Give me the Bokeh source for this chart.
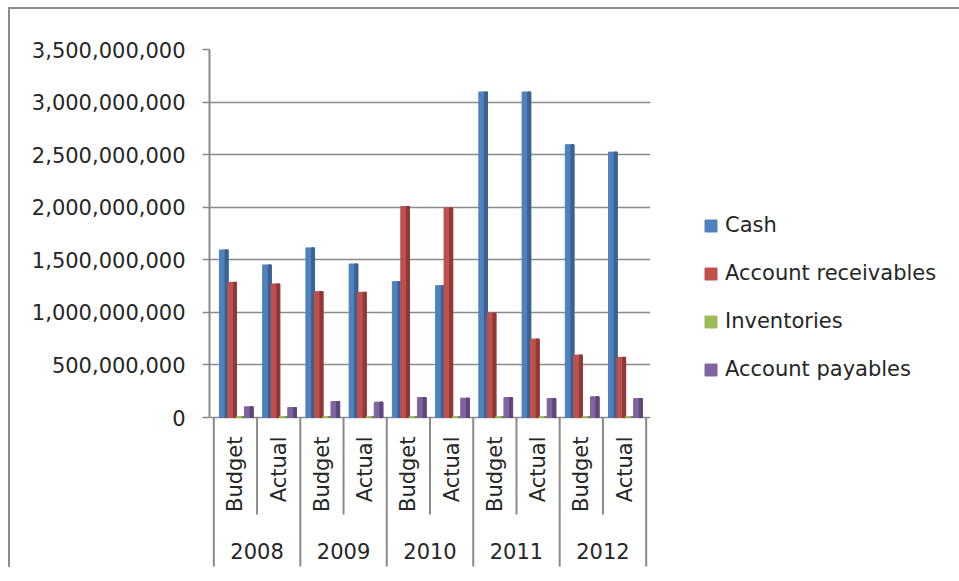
import numpy as np
from bokeh.plotting import figure
from bokeh.models import (Range1d, FixedTicker, NumeralTickFormatter, ColumnDataSource,
                          Legend, LegendItem)
from bokeh.layouts import column
from bokeh.transform import dodge
from bokeh.embed import file_html
from bokeh.resources import INLINE
from bokeh.core.properties import value

# ---- data -------------------------------------------------------------
years = ["2008", "2009", "2010", "2011", "2012"]
kinds = ["Budget", "Actual"]
series_names = ["Cash", "Account receivables", "Inventories", "Account payables"]

cash = [1.594e9, 1.451e9, 1.613e9, 1.460e9, 1.292e9, 1.254e9, 3.096e9, 3.096e9, 2.594e9, 2.524e9]
receivables = [1.286e9, 1.270e9, 1.197e9, 1.191e9, 2.007e9, 1.994e9, 0.994e9, 0.746e9, 0.594e9, 0.572e9]
inventories = [8e6, 8e6, 8e6, 8e6, 8e6, 8e6, 8e6, 8e6, 8e6, 8e6]
payables = [102e6, 95e6, 152e6, 146e6, 190e6, 184e6, 190e6, 181e6, 197e6, 181e6]

y_ticks = [0, 500e6, 1000e6, 1500e6, 2000e6, 2500e6, 3000e6, 3500e6]
y_max = 3.5e9

# ---- styling ----------------------------------------------------------
FONT = "DejaVu Sans"
TXT = "#262626"
GRID = "#8a8a8a"
colors = ["#4F81BD", "#C0504D", "#9BBB59", "#8064A2"]
sides = ["#3A6290", "#8E3A38", "#718A40", "#5D4878"]
offsets = [-0.27, -0.075, 0.12, 0.31]

CHART_H = 368   # px of the value area
TABLE_H = 150   # px of the category table below it

labels = [(y, k) for y in years for k in kinds]
xs = [i + 0.5 for i in range(len(labels))]
src = ColumnDataSource(dict(x=xs, cash=cash, receivables=receivables,
                            inventories=inventories, payables=payables))
fields = ["cash", "receivables", "inventories", "payables"]

x_range = Range1d(-0.1, len(labels) + 0.1)
y_range = Range1d(-y_max * TABLE_H / CHART_H, y_max)

p = figure(frame_width=441, frame_height=CHART_H + TABLE_H, x_range=x_range,
           y_range=y_range, output_backend="svg", toolbar_location=None,
           min_border_left=199, min_border_top=40, min_border_right=309,
           min_border_bottom=0)
p.extra_y_ranges = {"table": Range1d(-TABLE_H, CHART_H)}
p.outline_line_color = None
p.xaxis.visible = False
p.xgrid.visible = False
p.ygrid.grid_line_color = GRID
p.ygrid.grid_line_width = 1.6
p.ygrid.ticker = FixedTicker(ticks=y_ticks)
p.yaxis.ticker = FixedTicker(ticks=y_ticks)
p.yaxis.bounds = (0, y_max)
p.yaxis.formatter = NumeralTickFormatter(format="0,0")
p.yaxis.axis_line_color = GRID
p.yaxis.axis_line_width = 2
p.yaxis.major_tick_line_color = GRID
p.yaxis.major_tick_line_width = 1.6
p.yaxis.major_tick_out = 7
p.yaxis.major_tick_in = 0
p.yaxis.minor_tick_line_color = None
p.yaxis.major_label_standoff = 17
p.yaxis.major_label_text_font = FONT
p.yaxis.major_label_text_font_size = "21px"
p.yaxis.major_label_text_color = TXT

items = []
W = 0.2
SW = 0.07
for name, f, c, s, off in zip(series_names, fields, colors, sides, offsets):
    r = p.vbar(x=dodge("x", off, range=x_range), top=f, width=W, bottom=0,
               source=src, fill_color=c, line_color=c)
    p.vbar(x=dodge("x", off + W / 2 - SW / 2, range=x_range), top=f, width=SW,
           bottom=0, source=src, fill_color=s, line_color=s)
    items.append(LegendItem(label=name, renderers=[r]))

legend = Legend(items=items, location=(53, 186), padding=0, margin=0, spacing=24,
                glyph_width=15, glyph_height=15, label_standoff=7,
                label_text_font=FONT, label_text_font_size="21px",
                label_text_color=TXT, border_line_color=None,
                background_fill_alpha=0)
p.add_layout(legend, "right")

# ---- category table below the value area ------------------------------
inner = [i for i in range(1, len(labels), 2)]
outer = [i for i in range(0, len(labels) + 1, 2)]
p.segment(x0=inner, y0=[0] * len(inner), x1=inner, y1=[-97] * len(inner),
          line_color=GRID, line_width=2, y_range_name="table")
p.segment(x0=outer, y0=[0] * len(outer), x1=outer, y1=[-149] * len(outer),
          line_color=GRID, line_width=2, y_range_name="table")
p.text(x=xs, y=[-19] * len(xs), text=[k for _, k in labels], angle=np.pi / 2,
       text_align="right", text_baseline="middle", text_font=value(FONT),
       text_font_size="21px", text_color=TXT, y_range_name="table")
p.text(x=[2 * j + 1 for j in range(len(years))], y=[-133] * len(years), text=years,
       text_align="center", text_baseline="middle", text_font=value(FONT),
       text_font_size="21px", text_color=TXT, y_range_name="table")

layout = column(p, spacing=0,
                styles={"margin-left": "8px", "margin-top": "7px",
                        "border-left": "2px solid #8c8c8c",
                        "border-top": "2px solid #8c8c8c"})

open("out.html", "w").write(file_html(layout, INLINE))
